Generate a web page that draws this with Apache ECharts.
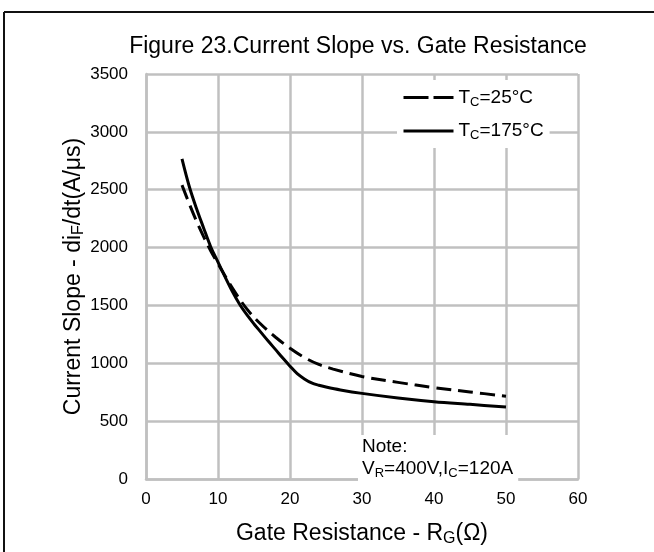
<!DOCTYPE html>
<html><head><meta charset="utf-8">
<script src="https://cdn.jsdelivr.net/npm/echarts@6/dist/echarts.min.js"></script>
<style>html,body{margin:0;padding:0;background:#fff}#c{width:654px;height:552px}</style>
</head><body><div id="c"></div>
<script>
// ---- data ----
const seriesNames = ['TC=25°C', 'TC=175°C'];
const x25 = [5, 6, 7, 8, 9, 10, 12, 14, 16, 18, 20, 22, 24, 26, 30, 35, 40, 45, 50];
const y25 = [2540, 2380, 2230, 2095, 1970, 1860, 1650, 1470, 1335, 1225, 1130, 1050, 990, 950, 886, 835, 790, 752, 716];
const x175 = [5, 6, 7, 8, 9, 10, 11, 12, 13, 14, 15, 16, 17, 18, 19, 20, 21, 22, 23, 24, 25, 27, 30, 35, 40, 45, 50];
const y175 = [2766, 2530, 2340, 2170, 2005, 1875, 1745, 1620, 1510, 1420, 1340, 1265, 1190, 1118, 1045, 975, 910, 865, 830, 810, 795, 770, 740, 700, 668, 645, 622];
const xTickMin = 0, xTickMax = 60, xTickStep = 10;
const yTickMin = 0, yTickMax = 3500, yTickStep = 500;

const FONT = 'Liberation Sans, Arial, sans-serif';
const GRID = '#c0c0c0';
const chart = echarts.init(document.getElementById('c'), null, {renderer: 'canvas'});

const pairs = (xs, ys) => xs.map((x, i) => [x, ys[i]]);
const sub = (fs, lh) => ({
  n: {fontSize: fs, fontFamily: FONT, color: '#000', lineHeight: lh},
  s: {fontSize: Math.round(fs * 0.68), fontFamily: FONT, color: '#000', verticalAlign: 'bottom', lineHeight: Math.round(fs * 0.68)}
});

chart.setOption({
  animation: false,
  backgroundColor: '#fff',
  title: {
    text: 'Figure 23.Current Slope vs. Gate Resistance',
    left: 358, top: 35, textAlign: 'center', padding: 0,
    textStyle: {fontFamily: FONT, fontSize: 23, fontWeight: 'normal', color: '#000'}
  },
  grid: {left: 146, right: 76, top: 74, bottom: 68, containLabel: false},
  legend: {
    orient: 'vertical', left: 397, top: 80,
    padding: [8, 6, 6, 5], itemGap: 13,
    backgroundColor: '#fff',
    itemWidth: 50, itemHeight: 20, itemTextGap: 5,
    selectedMode: false,
    itemStyle: {opacity: 0},
    data: [
      {name: seriesNames[0], itemStyle: {opacity: 0}, lineStyle: {type: [25, 5], width: 3, color: '#000', opacity: 1}},
      {name: seriesNames[1], itemStyle: {opacity: 0}, lineStyle: {type: 'solid', width: 3, color: '#000', opacity: 1}}
    ],
    formatter: function (name) {
      const rest = name.slice(2);
      return '{n|T}{s|C}{n|' + rest + '}';
    },
    textStyle: {rich: sub(19, 22)}
  },
  xAxis: {
    type: 'value', min: xTickMin, max: xTickMax, interval: xTickStep,
    name: '{n|Gate Resistance - R}{s|G}{n|(Ω)}',
    nameLocation: 'middle', nameGap: 42,
    nameTextStyle: {rich: sub(23, 26)},
    axisLine: {show: true, lineStyle: {color: GRID, width: 2.5}},
    axisTick: {show: false},
    axisLabel: {fontFamily: FONT, fontSize: 17, color: '#000', margin: 12},
    splitLine: {show: true, lineStyle: {color: GRID, width: 2.5}}
  },
  yAxis: {
    type: 'value', min: yTickMin, max: yTickMax, interval: yTickStep,
    name: '{n|Current Slope - di}{s|F}{n|/dt(A/μs)}',
    nameLocation: 'middle', nameGap: 59, nameMoveOverlap: false,
    nameTextStyle: {rich: sub(23, 26)},
    axisLine: {show: true, lineStyle: {color: GRID, width: 2.5}},
    axisTick: {show: false},
    axisLabel: {fontFamily: FONT, fontSize: 17, color: '#000', margin: 18, formatter: v => String(v)},
    splitLine: {show: true, lineStyle: {color: GRID, width: 2.5}}
  },
  series: [
    {
      name: seriesNames[0], type: 'line', data: pairs(x25, y25),
      smooth: 0.35, symbol: 'none', showSymbol: false,
      lineStyle: {color: '#000', width: 3, type: [15, 7]},
      itemStyle: {color: '#000'}, z: 3
    },
    {
      name: seriesNames[1], type: 'line', data: pairs(x175, y175),
      smooth: 0.35, symbol: 'none', showSymbol: false,
      lineStyle: {color: '#000', width: 3, type: 'solid'},
      itemStyle: {color: '#000'}, z: 3
    }
  ],
  graphic: [
    {type: 'line', shape: {x1: 4, y1: 12, x2: 4, y2: 552}, style: {stroke: '#111', lineWidth: 2}},
    {type: 'line', shape: {x1: 4, y1: 12, x2: 654, y2: 12}, style: {stroke: '#111', lineWidth: 2}},
    {
      type: 'text', left: 358, top: 435, z: 10,
      style: {
        text: '{n|Note:}\n{n|V}{s|R}{n|=400V,I}{s|C}{n|=120A}',
        rich: sub(19, 22),
        backgroundColor: '#fff',
        padding: [1, 5, 1, 4]
      }
    }
  ]
});
</script></body></html>
